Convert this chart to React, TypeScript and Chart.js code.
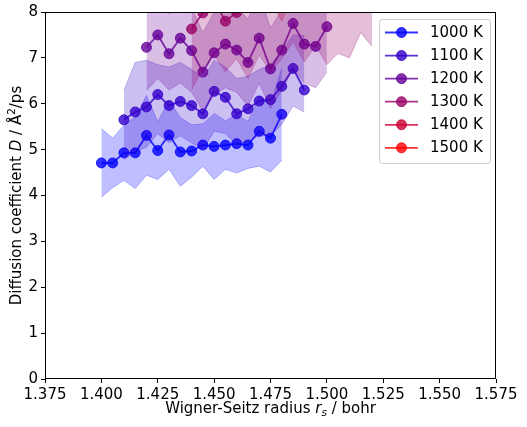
import React, { useEffect, useRef } from 'react';
import { Chart, registerables } from 'chart.js';
Chart.register(...registerables);

const seriesLabels = ['1000 K', '1100 K', '1200 K', '1300 K', '1400 K', '1500 K'];
const seriesColors = [[0, 0, 255], [51, 0, 204], [102, 0, 153], [153, 0, 102], [204, 0, 51], [255, 0, 0]];

const x1000 = [1.400, 1.405, 1.410, 1.415, 1.420, 1.425, 1.430, 1.435, 1.440, 1.445, 1.450, 1.455, 1.460, 1.465, 1.470, 1.475, 1.480];
const d1000 = [4.71, 4.71, 4.93, 4.93, 5.31, 4.98, 5.32, 4.95, 4.97, 5.10, 5.07, 5.10, 5.13, 5.10, 5.40, 5.25, 5.77];
const lo1000 = [3.96, 4.17, 4.33, 4.15, 4.44, 4.35, 4.57, 4.20, 4.40, 4.64, 4.35, 4.57, 4.49, 4.59, 4.64, 4.51, 4.77];
const hi1000 = [5.46, 5.25, 5.53, 5.71, 6.18, 5.61, 6.07, 5.70, 5.54, 5.56, 5.79, 5.63, 5.77, 5.61, 6.16, 5.99, 6.77];

const x1100 = [1.410, 1.415, 1.420, 1.425, 1.430, 1.435, 1.440, 1.445, 1.450, 1.455, 1.460, 1.465, 1.470, 1.475, 1.480, 1.485, 1.490];
const d1100 = [5.65, 5.82, 5.93, 6.20, 5.96, 6.05, 5.96, 5.78, 6.27, 6.14, 5.78, 5.89, 6.06, 6.09, 6.38, 6.77, 6.30];
const lo1100 = [4.78, 4.95, 5.05, 5.35, 5.15, 5.30, 5.15, 5.00, 5.40, 5.35, 5.10, 5.20, 5.30, 5.30, 5.55, 5.95, 5.82];
const hi1100 = [6.29, 6.90, 6.95, 6.85, 6.80, 6.90, 6.75, 6.55, 6.95, 6.80, 6.55, 6.60, 6.75, 6.85, 7.15, 7.50, 7.49];

const x1200 = [1.420, 1.425, 1.430, 1.435, 1.440, 1.445, 1.450, 1.455, 1.460, 1.465, 1.470, 1.475, 1.480, 1.485, 1.490, 1.495, 1.500];
const d1200 = [7.23, 7.50, 7.09, 7.43, 7.16, 6.69, 7.11, 7.30, 7.17, 6.90, 7.43, 6.76, 7.17, 7.75, 7.30, 7.25, 7.68];
const lo1200 = [6.29, 6.55, 6.30, 6.45, 6.25, 5.85, 6.20, 6.35, 6.25, 5.95, 6.45, 5.90, 6.30, 6.75, 6.45, 6.35, 6.69];
const hi1200 = [8.15, 8.40, 7.95, 8.35, 8.10, 7.55, 8.00, 8.25, 8.10, 7.85, 8.40, 7.65, 8.05, 8.70, 8.20, 8.15, 8.65];

const x1300 = [1.440, 1.445, 1.450, 1.455, 1.460, 1.465, 1.470, 1.475, 1.480, 1.485, 1.490, 1.495, 1.500, 1.505, 1.510, 1.515, 1.520];
const d1300 = [7.63, 7.98, 8.25, 7.80, 7.99, 8.15, 8.30, 8.20, 8.35, 8.45, 8.30, 8.50, 8.10, 8.60, 8.40, 8.75, 8.50];
const lo1300 = [6.30, 6.77, 7.06, 6.70, 6.98, 6.55, 7.06, 6.70, 6.98, 7.35, 6.91, 7.27, 6.85, 7.10, 7.00, 7.55, 7.25];
const hi1300 = [8.96, 9.19, 9.44, 8.90, 9.00, 9.75, 9.54, 9.70, 9.72, 9.55, 9.69, 9.73, 9.35, 10.10, 9.80, 9.95, 9.75];

const x1400 = [1.460, 1.465, 1.470, 1.475, 1.480, 1.485, 1.490, 1.495, 1.500, 1.505, 1.510, 1.515, 1.520, 1.525, 1.530, 1.535, 1.540];
const d1400 = [8.95, 9.10, 8.85, 9.05, 8.65, 9.20, 9.00, 9.30, 9.15, 9.40, 9.25, 9.50, 9.35, 9.60, 9.45, 9.70, 9.55];
const lo1400 = [8.15, 8.30, 8.05, 8.25, 7.80, 8.40, 8.20, 8.50, 8.35, 8.60, 8.45, 8.70, 8.55, 8.80, 8.65, 8.90, 8.75];
const hi1400 = [9.75, 9.90, 9.65, 9.85, 9.50, 10.00, 9.80, 10.10, 9.95, 10.20, 10.05, 10.30, 10.15, 10.40, 10.25, 10.50, 10.35];

const x1500 = [1.480, 1.485, 1.490, 1.495, 1.500, 1.505, 1.510, 1.515, 1.520, 1.525, 1.530, 1.535, 1.540, 1.545, 1.550, 1.555, 1.560];
const d1500 = [9.6, 9.8, 9.5, 9.9, 9.7, 10.0, 9.8, 10.1, 9.9, 10.2, 10.0, 10.3, 10.1, 10.4, 10.2, 10.5, 10.3];
const lo1500 = [8.8, 9.0, 8.7, 9.1, 8.9, 9.2, 9.0, 9.3, 9.1, 9.4, 9.2, 9.5, 9.3, 9.6, 9.4, 9.7, 9.5];
const hi1500 = [10.4, 10.6, 10.3, 10.7, 10.5, 10.8, 10.6, 10.9, 10.7, 11.0, 10.8, 11.1, 10.9, 11.2, 11.0, 11.3, 11.1];

const xTicks = [1.375, 1.400, 1.425, 1.450, 1.475, 1.500, 1.525, 1.550, 1.575];
const yTicks = [0, 1, 2, 3, 4, 5, 6, 7, 8];

const series = [
  { x: x1000, d: d1000, lo: lo1000, hi: hi1000 },
  { x: x1100, d: d1100, lo: lo1100, hi: hi1100 },
  { x: x1200, d: d1200, lo: lo1200, hi: hi1200 },
  { x: x1300, d: d1300, lo: lo1300, hi: hi1300 },
  { x: x1400, d: d1400, lo: lo1400, hi: hi1400 },
  { x: x1500, d: d1500, lo: lo1500, hi: hi1500 },
];

const FONT = 'DejaVu Sans';

function drawSegments(ctx: CanvasRenderingContext2D, segs: any[], cx: number, baseline: number) {
  let total = 0;
  for (const s of segs) {
    ctx.font = `${s.italic ? 'italic ' : ''}${s.size}px "${FONT}"`;
    s.w = ctx.measureText(s.text).width;
    total += s.w;
  }
  let x = cx - total / 2;
  ctx.textAlign = 'left';
  ctx.textBaseline = 'alphabetic';
  for (const s of segs) {
    ctx.font = `${s.italic ? 'italic ' : ''}${s.size}px "${FONT}"`;
    ctx.fillText(s.text, x, baseline + (s.dy || 0));
    x += s.w;
  }
}

const decorPlugin = {
  id: 'decor',
  afterDraw(chart: any) {
    const ctx = chart.ctx as CanvasRenderingContext2D;
    const a = chart.chartArea;
    ctx.save();
    ctx.strokeStyle = '#000';
    ctx.lineWidth = 1;
    ctx.strokeRect(Math.round(a.left) + 0.5, Math.round(a.top) + 0.5, Math.round(a.right - a.left) - 1, Math.round(a.bottom - a.top) - 1);

    // legend
    const lx = 379.5, ly = 19.5, lw = 111, lh = 144, r = 3;
    ctx.beginPath();
    ctx.moveTo(lx + r, ly);
    ctx.lineTo(lx + lw - r, ly);
    ctx.quadraticCurveTo(lx + lw, ly, lx + lw, ly + r);
    ctx.lineTo(lx + lw, ly + lh - r);
    ctx.quadraticCurveTo(lx + lw, ly + lh, lx + lw - r, ly + lh);
    ctx.lineTo(lx + r, ly + lh);
    ctx.quadraticCurveTo(lx, ly + lh, lx, ly + lh - r);
    ctx.lineTo(lx, ly + r);
    ctx.quadraticCurveTo(lx, ly, lx + r, ly);
    ctx.closePath();
    ctx.fillStyle = 'rgba(255,255,255,0.8)';
    ctx.fill();
    ctx.strokeStyle = '#cccccc';
    ctx.stroke();
    seriesLabels.forEach((lab, i) => {
      const y = 32.5 + i * 23.07;
      const [cr, cg, cb] = seriesColors[i];
      const col = `rgba(${cr},${cg},${cb},0.8)`;
      ctx.strokeStyle = col;
      ctx.lineWidth = 1.8;
      ctx.beginPath();
      ctx.moveTo(385, y);
      ctx.lineTo(418, y);
      ctx.stroke();
      ctx.fillStyle = col;
      ctx.lineWidth = 1;
      ctx.beginPath();
      ctx.arc(401.5, y, 5, 0, Math.PI * 2);
      ctx.fill();
      ctx.stroke();
      ctx.fillStyle = '#000';
      ctx.font = `15px "${FONT}"`;
      ctx.textAlign = 'left';
      ctx.textBaseline = 'middle';
      ctx.fillText(lab, 430, y + 0.5);
    });

    // axis titles
    ctx.fillStyle = '#000';
    drawSegments(ctx, [
      { text: 'Wigner-Seitz radius ', size: 15 },
      { text: 'r', size: 15, italic: true },
      { text: 's', size: 10.5, italic: true, dy: 2.5 },
      { text: ' / bohr', size: 15 },
    ], (a.left + a.right) / 2, 413);

    ctx.save();
    ctx.translate(20.5, (a.top + a.bottom) / 2);
    ctx.rotate(-Math.PI / 2);
    drawSegments(ctx, [
      { text: 'Diffusion coefficient ', size: 15 },
      { text: 'D', size: 15, italic: true },
      { text: ' / Å', size: 15 },
      { text: '2', size: 10.5, dy: -6 },
      { text: '/ps', size: 15 },
    ], 0, 0);
    ctx.restore();
    ctx.restore();
  },
};

export default function App() {
  const ref = useRef<HTMLCanvasElement>(null);
  useEffect(() => {
    document.body.style.margin = '0';
    Chart.defaults.font.family = FONT;
    const datasets: any[] = [];
    series.forEach((s, k) => {
      const [r, g, b] = seriesColors[k];
      const band = `rgba(${r},${g},${b},0.25)`;
      const solid = `rgba(${r},${g},${b},0.8)`;
      datasets.push({
        data: s.x.map((x, i) => ({ x, y: s.hi[i] })),
        borderColor: band, backgroundColor: band, borderWidth: 1, pointRadius: 0,
        fill: '+1', order: 1000 - k * 10, tension: 0,
      });
      datasets.push({
        data: s.x.map((x, i) => ({ x, y: s.lo[i] })),
        borderColor: band, borderWidth: 1, pointRadius: 0,
        fill: false, order: 1000 - k * 10 - 1, tension: 0,
      });
      datasets.push({
        label: seriesLabels[k],
        data: s.x.map((x, i) => ({ x, y: s.d[i] })),
        borderColor: solid, backgroundColor: solid, borderWidth: 1.8,
        pointRadius: 5, pointBorderWidth: 1, pointBackgroundColor: solid, pointBorderColor: solid,
        fill: false, order: 1000 - k * 10 - 2, tension: 0,
      });
    });
    const tickFont = { family: FONT, size: 15 };
    const chart = new Chart(ref.current!, {
      type: 'line',
      data: { datasets },
      options: {
        animation: false,
        responsive: false,
        devicePixelRatio: 1,
        layout: { padding: { top: 11, right: 31, left: 0, bottom: 0 } },
        plugins: { legend: { display: false }, tooltip: { enabled: false } },
        scales: {
          x: {
            type: 'linear', min: 1.375, max: 1.575,
            afterBuildTicks: (s: any) => { s.ticks = xTicks.map((v) => ({ value: v })); },
            afterFit: (s: any) => { s.height = 48; },
            ticks: { callback: (v: any) => Number(v).toFixed(3), font: tickFont, color: '#000', padding: 3, maxRotation: 0, minRotation: 0, autoSkip: false },
            grid: { drawOnChartArea: false, color: '#000', tickColor: '#000', tickLength: 4 },
            border: { display: false },
          },
          y: {
            type: 'linear', min: 0, max: 8,
            afterBuildTicks: (s: any) => { s.ticks = yTicks.map((v) => ({ value: v })); },
            afterFit: (s: any) => { s.width = 45; },
            ticks: { callback: (v: any) => String(v), font: tickFont, color: '#000', padding: 3, autoSkip: false },
            grid: { drawOnChartArea: false, color: '#000', tickColor: '#000', tickLength: 4 },
            border: { display: false },
          },
        },
      } as any,
      plugins: [decorPlugin],
    });
    return () => chart.destroy();
  }, []);
  return (
    <div style={{ width: 527, height: 427 }}>
      <canvas ref={ref} width={527} height={427} />
    </div>
  );
}
